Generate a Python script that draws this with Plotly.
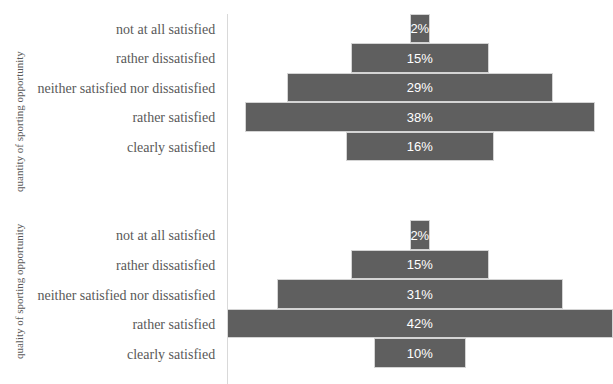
import plotly.graph_objects as go

categories = ["not at all satisfied", "rather dissatisfied",
              "neither satisfied nor dissatisfied", "rather satisfied",
              "clearly satisfied"]
groups = ["quantity of sporting opportunity", "quality of sporting opportunity"]
quantity_values = [2, 15, 29, 38, 16]
quality_values = [2, 15, 31, 42, 10]

# row positions: group 1 rows 0-4, two empty slots, group 2 rows 7-11
pos_q1 = [0, 1, 2, 3, 4]
pos_q2 = [7, 8, 9, 10, 11]

fig = go.Figure()
for vals, pos in [(quantity_values, pos_q1), (quality_values, pos_q2)]:
    fig.add_trace(go.Bar(
        y=pos, x=vals, base=[-v / 2 for v in vals], orientation="h",
        width=0.96,
        marker=dict(color="#5f5f5f", line=dict(color="#d4d4d4", width=1)),
        text=[f"{v}%" for v in vals], textposition="inside",
        insidetextanchor="middle", textangle=0, constraintext="none",
        textfont=dict(family="Liberation Sans", size=13, color="white"),
        hoverinfo="skip", showlegend=False, cliponaxis=False,
    ))

fig.update_layout(
    width=613, height=384,
    margin=dict(l=228, r=0, t=14, b=0),
    plot_bgcolor="white", paper_bgcolor="white",
    bargap=0,
    uniformtext=dict(mode="show", minsize=8),
)
fig.update_xaxes(range=[-21, 21], visible=False, showgrid=False, zeroline=False)
fig.update_yaxes(
    range=[12.03, -0.51],
    tickvals=pos_q1 + pos_q2, ticktext=categories + categories,
    tickfont=dict(family="Liberation Serif", size=14, color="#595959"),
    showline=True, linecolor="#d9d9d9", linewidth=1,
    showgrid=False, zeroline=False, ticks="", ticklabelstandoff=9,
)

for label, yc in zip(groups, [3.15, 8.88]):
    fig.add_annotation(
        text=label, textangle=-90, xref="paper", yref="y",
        x=(19 - 228) / 385, y=yc, showarrow=False,
        xanchor="center", yanchor="middle",
        font=dict(family="Liberation Serif", size=11, color="#595959"),
    )

fig.write_html("out.html")
